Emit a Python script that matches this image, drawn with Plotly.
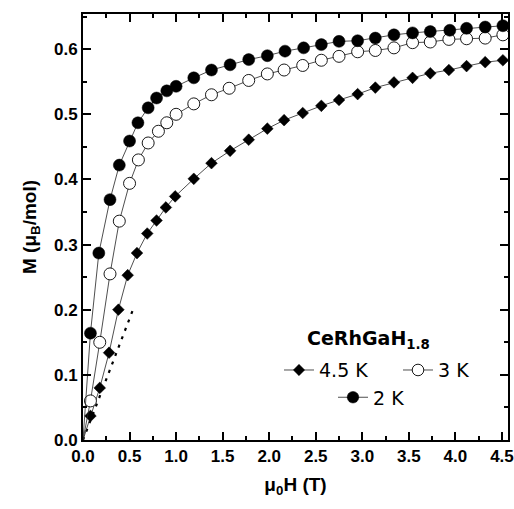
import plotly.graph_objects as go

# Field (T) and magnetisation (mu_B/mol)
H_45 = [0.0, 0.08, 0.18, 0.28, 0.38, 0.48, 0.58, 0.69, 0.79, 0.89, 0.99, 1.19, 1.38, 1.58, 1.78,
        1.98, 2.16, 2.36, 2.56, 2.75, 2.95, 3.14, 3.34, 3.54, 3.73, 3.93, 4.12, 4.32, 4.51]
M_45 = [0.0, 0.037, 0.080, 0.134, 0.200, 0.253, 0.287, 0.317, 0.337, 0.357, 0.374, 0.401, 0.425,
        0.444, 0.461, 0.478, 0.491, 0.502, 0.513, 0.522, 0.531, 0.541, 0.549, 0.556, 0.563,
        0.568, 0.574, 0.580, 0.583]

H_3 = [0.0, 0.08, 0.18, 0.29, 0.39, 0.50, 0.595, 0.70, 0.81, 0.90, 1.00, 1.19, 1.38, 1.57, 1.78,
       1.98, 2.16, 2.36, 2.56, 2.75, 2.95, 3.14, 3.34, 3.54, 3.73, 3.93, 4.12, 4.32, 4.51]
M_3 = [0.0, 0.060, 0.150, 0.255, 0.336, 0.394, 0.430, 0.456, 0.474, 0.487, 0.500, 0.516, 0.530,
       0.540, 0.552, 0.562, 0.568, 0.575, 0.583, 0.589, 0.596, 0.598, 0.602, 0.610, 0.611,
       0.615, 0.616, 0.617, 0.622]

H_2 = [0.0, 0.08, 0.17, 0.29, 0.39, 0.50, 0.59, 0.70, 0.79, 0.90, 1.00, 1.19, 1.38, 1.58, 1.78,
       1.98, 2.17, 2.37, 2.56, 2.75, 2.95, 3.14, 3.34, 3.54, 3.73, 3.94, 4.12, 4.32, 4.51]
M_2 = [0.0, 0.164, 0.287, 0.369, 0.422, 0.459, 0.487, 0.510, 0.525, 0.536, 0.543, 0.556, 0.568,
       0.576, 0.584, 0.590, 0.597, 0.602, 0.607, 0.612, 0.613, 0.617, 0.622, 0.625, 0.627,
       0.629, 0.632, 0.634, 0.636]

# initial slope (dotted line)
H_lin = [0.0, 0.55]
M_lin = [0.0, 0.205]

x_ticks = [0.0, 0.5, 1.0, 1.5, 2.0, 2.5, 3.0, 3.5, 4.0, 4.5]
y_ticks = [0.0, 0.1, 0.2, 0.3, 0.4, 0.5, 0.6]

FONT = "Liberation Sans, Arial, sans-serif"
WFONT = "DejaVu Sans, sans-serif"

def sizes(n, s):
    return [0] + [s] * (n - 1)

fig = go.Figure()

fig.add_trace(go.Scatter(
    x=H_lin, y=M_lin, mode="lines", showlegend=False,
    line=dict(color="black", width=2.2, dash="3px,6px"), hoverinfo="skip"))

fig.add_trace(go.Scatter(
    x=H_45, y=M_45, mode="lines+markers", name="4.5 K", legend="legend",
    line=dict(color="#222222", width=0.8),
    marker=dict(symbol="diamond", size=sizes(len(H_45), 9), color="black", opacity=1,
                line=dict(color="black", width=0.5))))

fig.add_trace(go.Scatter(
    x=H_3, y=M_3, mode="lines+markers", name="3 K", legend="legend3",
    line=dict(color="#222222", width=0.8),
    marker=dict(symbol="circle", size=sizes(len(H_3), 12), color="white", opacity=1,
                line=dict(color="black", width=0.9))))

fig.add_trace(go.Scatter(
    x=H_2, y=M_2, mode="lines+markers", name="2 K", legend="legend2",
    line=dict(color="#222222", width=0.8),
    marker=dict(symbol="circle", size=sizes(len(H_2), 12), color="black", opacity=1,
                line=dict(color="black", width=0.5))))

axis_common = dict(
    showline=True, linecolor="black", linewidth=2, mirror="ticks",
    ticks="inside", ticklen=8, tickwidth=2, tickcolor="black",
    showgrid=False, zeroline=False, automargin=False,
    tickfont=dict(family=FONT, size=17, color="black", weight="bold"),
)

fig.update_xaxes(
    range=[0, 4.565], tickvals=x_ticks, tickformat=".1f",
    minor=dict(dtick=0.25, tick0=0, ticks="inside", ticklen=4, tickwidth=2, tickcolor="black"),
    title=dict(text="μ<sub>0</sub>H (T)", standoff=12,
               font=dict(family=FONT, size=19, color="black", weight="bold")),
    **axis_common)
fig.update_yaxes(
    range=[0, 0.654], tickvals=y_ticks, tickformat=".1f",
    minor=dict(dtick=0.05, tick0=0, ticks="inside", ticklen=4, tickwidth=2, tickcolor="black"),
    title=dict(text="M (μ<sub>B</sub>/mol)", standoff=12,
               font=dict(family=FONT, size=19, color="black", weight="bold")),
    **axis_common)

legend_common = dict(
    orientation="h", bgcolor="rgba(0,0,0,0)", borderwidth=0,
    font=dict(family=WFONT, size=19, color="black"),
    xanchor="left", yanchor="middle", itemsizing="trace",
    tracegroupgap=0, itemwidth=30,
)

# legend text starts ~39 px right of the legend's x position
def lx(px):
    return (px - 39 - 83) / 425.0

fig.update_layout(
    width=514, height=509,
    margin=dict(l=83, r=6, t=14, b=69),
    paper_bgcolor="white", plot_bgcolor="white",
    legend=dict(x=lx(318), y=0.164, **legend_common),
    legend3=dict(x=lx(437), y=0.164, **legend_common),
    legend2=dict(x=lx(372), y=0.10, **legend_common),
    annotations=[dict(
        text="<b>CeRhGaH<sub>1.8</sub></b>", xref="paper", yref="paper",
        x=0.671, y=0.235, xanchor="center", yanchor="middle", showarrow=False,
        font=dict(family=WFONT, size=19, color="black"))],
)

fig.write_html("out.html")
